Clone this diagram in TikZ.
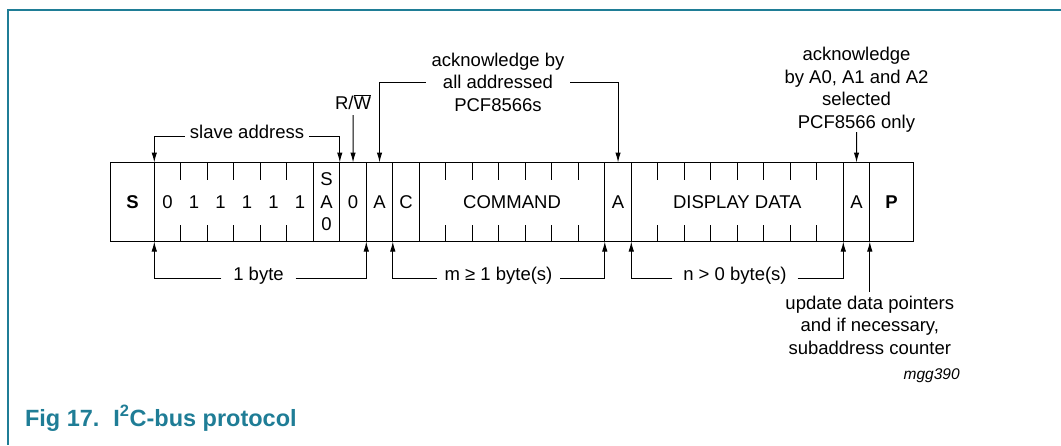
\documentclass[tikz,border=0pt]{standalone}
\usepackage{fontspec}
\setmainfont{Liberation Sans}
\usetikzlibrary{arrows.meta,calc}
\definecolor{nxpteal}{RGB}{31,125,150}
\begin{document}
\begin{tikzpicture}[x=1pt,y=-1pt,
  every node/.style={font=\fontsize{18.5}{22.5}\selectfont, inner sep=0pt, outer sep=0pt},
  field/.style={draw, line width=1pt, minimum height=79pt, anchor=west},
  boldtxt/.style={font=\fontsize{18.5}{22.5}\selectfont\bfseries},
  tickline/.style={line width=1pt},
  arr/.style={line width=1pt, -{Latex[length=10pt,width=5.5pt]}},
  lbl/.style={inner xsep=5pt, inner ysep=0pt},
  frameline/.style={draw=nxpteal, line width=2pt},
]
\useasboundingbox (0,0) rectangle (1061,445);
\def\cw{26.5}
% frame
\draw[frameline] (1061,10) -- (8,10) -- (8,445);
% fields
\node[field, boldtxt, minimum width=43.6pt] (S) at (110.7,202) {S};
\node[field, minimum width=159pt] (addr) at (154.3,202) {};
\node[field, minimum width=26.5pt] (sa) at (313.3,202) {};
\node[field, minimum width=26.5pt] (rwb) at (339.8,202) {0};
\node[field, minimum width=26.5pt] (ackA) at (366.3,202) {A};
\node[field, minimum width=26.5pt] (cbit) at (392.8,202) {C};
\node[field, minimum width=185.5pt] (cmd) at (419.3,202) {COMMAND};
\node[field, minimum width=26.5pt] (ackB) at (604.8,202) {A};
\node[field, minimum width=212pt] (data) at (631.3,202) {DISPLAY DATA};
\node[field, minimum width=26.5pt] (ackC) at (843.3,202) {A};
\node[field, boldtxt, minimum width=43.5pt] (P) at (869.8,202) {P};
% bits
\foreach \b [count=\i from 0] in {0,1,1,1,1,1}
  \node (bit\i) at ({154.3+(\i+0.5)*\cw},202) {\b};
\node[align=center] (satxt) at (sa.center) {S\\A\\0};
% ticks
\foreach \k in {1,...,5} {
  \draw[tickline] ($(addr.north west)+(\k*\cw,0)$) -- ++(0,17);
  \draw[tickline] ($(addr.south west)+(\k*\cw,0)$) -- ++(0,-17);
}
\foreach \k in {1,...,6} {
  \draw[tickline] ($(cmd.north west)+(\k*\cw,0)$) -- ++(0,17);
  \draw[tickline] ($(cmd.south west)+(\k*\cw,0)$) -- ++(0,-17);
}
\foreach \k in {1,...,7} {
  \draw[tickline] ($(data.north west)+(\k*\cw,0)$) -- ++(0,17);
  \draw[tickline] ($(data.south west)+(\k*\cw,0)$) -- ++(0,-17);
}
% top labels
\node[lbl, anchor=mid] (slv) at (247,136) {slave address};
\draw[arr] (slv.mid west) -| (addr.north west);
\draw[arr] (slv.mid east) -| (sa.north east);
\node[anchor=base] (rwl) at (353,109) {R/$\overline{\mbox{W}}$};
\draw[arr] ([yshift=-6pt]rwl.base) -- (rwb.north);
\node[lbl, align=center, inner xsep=6pt] (aall) at (498,82) {acknowledge by\\all addressed\\PCF8566s};
\draw[arr] (aall.west) -| (ackA.north);
\draw[arr] (aall.east) -| (ackB.north);
\node[align=center, anchor=south] (asel) at (856.5,132) {acknowledge\\by A0, A1 and A2\\selected\\PCF8566 only};
\draw[arr] (asel.south) -- (ackC.north);
% bottom labels
\node[lbl, anchor=mid, inner xsep=12pt] (b1) at (258.5,278) {1 byte};
\draw[arr] (b1.mid west) -| (addr.south west);
\draw[arr] (b1.mid east) -| (rwb.south east);
\node[lbl, anchor=mid, inner xsep=8pt] (bm) at (498.5,278) {m ≥ 1 byte(s)};
\draw[arr] (bm.mid west) -| (cbit.south west);
\draw[arr] (bm.mid east) -| (cmd.south east);
\node[lbl, anchor=mid, inner xsep=11pt] (bn) at (735,278) {n > 0 byte(s)};
\draw[arr] (bn.mid west) -| (data.south west);
\draw[arr] (bn.mid east) -| (data.south east);
\node[align=center, anchor=north, inner ysep=4pt] (upd) at (869.8,292) {update data pointers\\and if necessary,\\subaddress counter};
\draw[arr] (upd.north) -- (P.south west);
\node[anchor=base, font=\fontsize{15.5}{18}\selectfont\itshape] (mgg) at (931.7,379.3) {mgg390};
% caption
\node[anchor=base west, text=nxpteal, font=\fontsize{23.5}{26}\selectfont\bfseries] (cap) at (25,426) {Fig 17.\hspace{14pt}I\textsuperscript{2}C-bus protocol};
\end{tikzpicture}
\end{document}
